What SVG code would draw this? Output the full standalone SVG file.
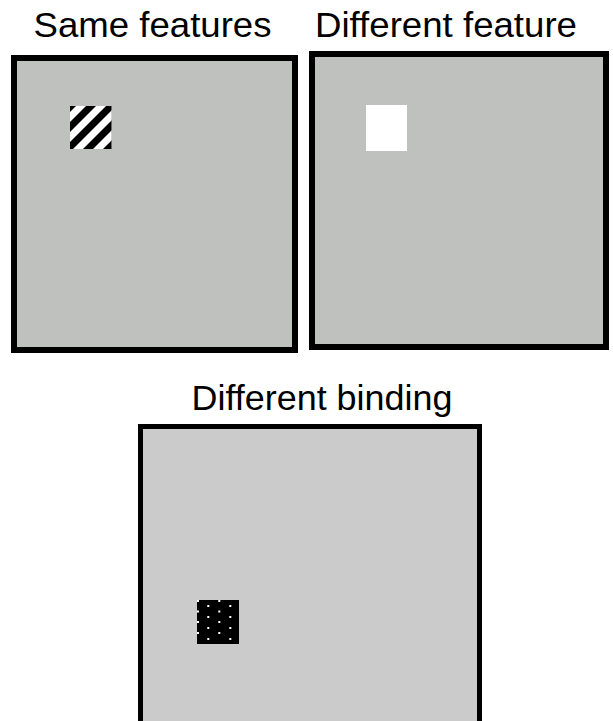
<svg xmlns="http://www.w3.org/2000/svg" width="613" height="721" viewBox="0 0 613 721">
<style>
.lbl{font-family:"Liberation Sans",Arial,Helvetica,sans-serif;font-size:35px;fill:#000;text-anchor:middle}
.frame{stroke:#000;fill:#bfc1bf}
.dot{fill:#fff}
.band{fill:#000}
</style>
<defs>
<clipPath id="sq1"><rect x="70" y="106" width="41.5" height="43"/></clipPath>
</defs>
<rect width="613" height="721" fill="#fff"/>
<g id="panel-same">
<text class="lbl" x="152.5" y="37" textLength="238" lengthAdjust="spacingAndGlyphs">Same features</text>
<rect class="frame" x="14" y="58" width="281" height="292" stroke-width="6"/>
<g id="striped-square" clip-path="url(#sq1)">
<rect x="70" y="106" width="41.5" height="43" fill="#fff"/>
<polygon class="band" points="60,112 60,122 120,62 120,52"/>
<polygon class="band" points="60,132 60,142 120,82 120,72"/>
<polygon class="band" points="60,152 60,162 120,102 120,92"/>
<polygon class="band" points="60,172 60,182 120,122 120,112"/>
<polygon class="band" points="60,192 60,202 120,142 120,132"/>
</g>
</g>
<g id="panel-feature">
<text class="lbl" x="446" y="37" textLength="262" lengthAdjust="spacingAndGlyphs">Different feature</text>
<rect class="frame" x="312" y="54" width="294" height="293" stroke-width="6"/>
<rect id="white-square" x="366" y="105" width="41" height="46" fill="#fff"/>
</g>
<g id="panel-binding">
<text class="lbl" x="322" y="410" textLength="261" lengthAdjust="spacingAndGlyphs">Different binding</text>
<rect x="140.5" y="426.5" width="339" height="320" stroke-width="5" stroke="#000" fill="#cbcbcb"/>
<g id="dotted-square">
<rect x="197" y="600" width="42" height="44" fill="#000"/>
<rect class="dot" x="197" y="600" width="2" height="2"/>
<rect class="dot" x="197" y="610.5" width="2" height="2"/>
<rect class="dot" x="197" y="621" width="2" height="2"/>
<rect class="dot" x="197" y="632" width="2" height="2"/>
<rect class="dot" x="218.3" y="600" width="2" height="2"/>
<rect class="dot" x="218.3" y="610.5" width="2" height="2"/>
<rect class="dot" x="218.3" y="621" width="2" height="2"/>
<rect class="dot" x="218.3" y="632" width="2" height="2"/>
<rect class="dot" x="207.3" y="605" width="2" height="2"/>
<rect class="dot" x="207.3" y="616" width="2" height="2"/>
<rect class="dot" x="207.3" y="627" width="2" height="2"/>
<rect class="dot" x="207.3" y="638" width="2" height="2"/>
<rect class="dot" x="229.3" y="605" width="2" height="2"/>
<rect class="dot" x="229.3" y="616" width="2" height="2"/>
<rect class="dot" x="229.3" y="627" width="2" height="2"/>
<rect class="dot" x="229.3" y="638" width="2" height="2"/>
</g>
</g>
</svg>
